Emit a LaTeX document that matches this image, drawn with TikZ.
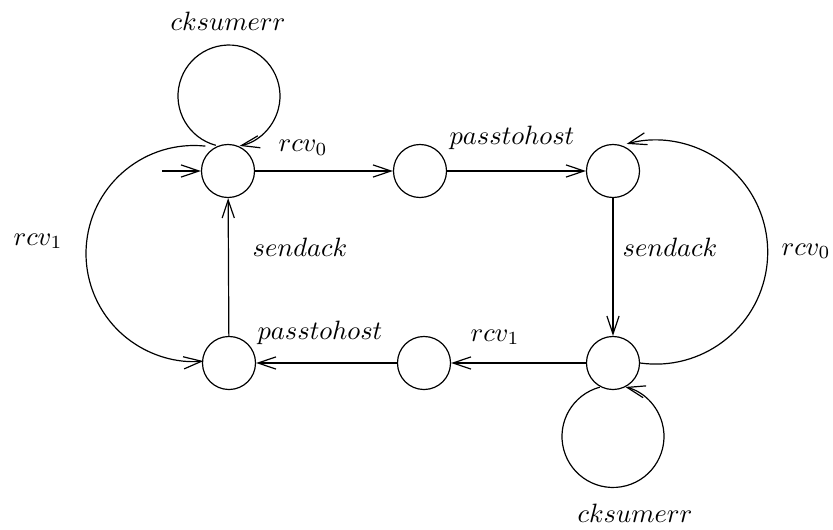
\documentclass[tikz,border=0pt]{standalone}
\usetikzlibrary{arrows.meta}
\begin{document}
\begin{tikzpicture}[x=0.377pt,y=0.377pt,
  line width=0.45pt,
  >={Straight Barb[length=6.8pt,width=4.6pt]},
  state/.style={circle,draw,minimum size=20pt,inner sep=0pt},
  lbl/.style={anchor=base west,inner sep=0pt}]
\useasboundingbox (0,0) rectangle (833,529);

% states
\node[state] (A) at (228,358) {};
\node[state] (B) at (420,358) {};
\node[state] (C) at (613,358) {};
\node[state] (D) at (613,166) {};
\node[state] (E) at (424,166) {};
\node[state] (F) at (229,166) {};

% initial arrow
\coordinate (init) at (162,358);
\draw[->] (init) -- (A.west);

% straight transitions
\draw[->] (A) -- (B);
\draw[->] (B) -- (C);
\draw[->] (C) -- (D);
\draw[->] (D) -- (E);
\draw[->] (E) -- (F);
\draw[->] (F) -- (A);

% self loops
\coordinate (loopA) at (215.8,383.7);
\draw[->] (loopA) arc[start angle=255,end angle=-78,radius=51];
\coordinate (loopD) at (599.8,141.8);
\draw[->] (loopD) arc[start angle=105,end angle=436,radius=51];

% long arcs
\coordinate (arcL) at (205.3,382.9);
\draw[->] (arcL) arc[start angle=84,end angle=275,radius=108];
\draw[->] (D.east) arc[start angle=-98,end angle=105,radius=112];

% labels
\node[lbl] (l1) at (170,499) {$cksumerr$};
\node[lbl] (l2) at (278,377.5) {$rcv_0$};
\node[lbl] (l3) at (449,384) {$passtohost$};
\node[lbl] (l4) at (252,273) {$sendack$};
\node[lbl] (l5) at (622,273) {$sendack$};
\node[lbl] (l6) at (781,274) {$rcv_0$};
\node[lbl] (l7) at (13,284) {$rcv_1$};
\node[lbl] (l8) at (257,190) {$passtohost$};
\node[lbl] (l9) at (470,188) {$rcv_1$};
\node[lbl] (l10) at (577,6.5) {$cksumerr$};
\end{tikzpicture}
\end{document}
